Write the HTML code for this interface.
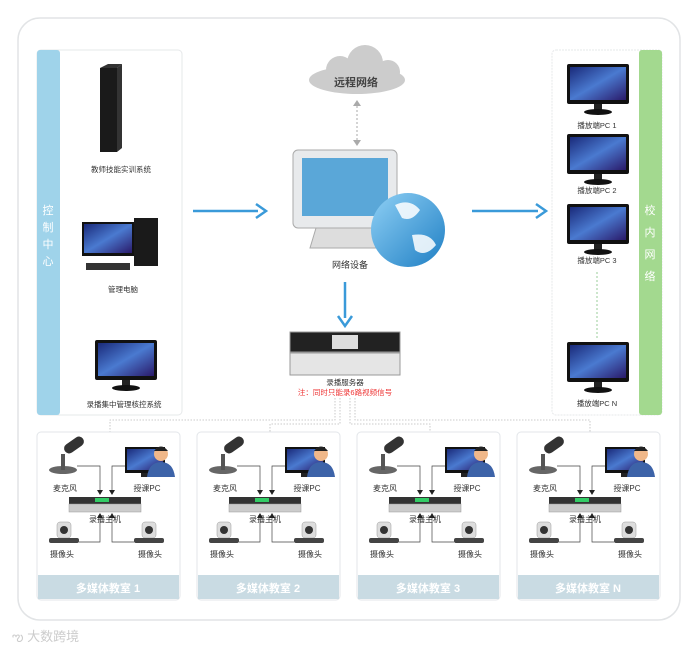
<!DOCTYPE html>
<html><head><meta charset="utf-8"><style>
body{margin:0;background:#fff;}
svg{display:block;font-family:"Liberation Sans","Noto Sans CJK SC",sans-serif;}
</style></head><body>
<svg width="699" height="653" viewBox="0 0 699 653" xmlns="http://www.w3.org/2000/svg">
<defs>
<linearGradient id="scr" x1="0" y1="0" x2="1" y2="1"><stop offset="0" stop-color="#1a2a7a"/><stop offset="0.5" stop-color="#4a7ad0"/><stop offset="1" stop-color="#2a1a6a"/></linearGradient>
<linearGradient id="glb" x1="0" y1="0" x2="1" y2="1"><stop offset="0" stop-color="#8fd0f5"/><stop offset="1" stop-color="#1f7fc4"/></linearGradient>
<g id="mon">
<rect x="0" y="0" width="62" height="40" rx="2" fill="#111"/>
<rect x="3" y="3" width="56" height="33" fill="url(#scr)"/>
<rect x="27" y="40" width="8" height="6" fill="#222"/>
<ellipse cx="31" cy="48" rx="14" ry="3" fill="#111"/>
</g>
<g id="room">
<rect x="0" y="0" width="143" height="168" rx="4" fill="#fff" stroke="#e3e6ea"/>
<rect x="1" y="143" width="141" height="24" fill="#c9dbe3"/>
<text x="71" y="160" font-size="11" font-weight="bold" fill="#fff" text-anchor="middle">多媒体教室 1</text>
<!-- mic -->
<ellipse cx="26" cy="38" rx="14" ry="4" fill="#666"/>
<rect x="24" y="22" width="4" height="16" fill="#555"/>
<rect x="26" y="8" width="22" height="10" rx="5" fill="#333" transform="rotate(-35 37 13)"/>
<text x="28" y="59" font-size="8" fill="#333" text-anchor="middle">麦克风</text>
<!-- pc + person -->
<rect x="88" y="15" width="40" height="26" fill="#111"/><rect x="90" y="17" width="36" height="21" fill="url(#scr)"/>
<rect x="104" y="41" width="8" height="4" fill="#222"/>
<circle cx="124" cy="22" r="7" fill="#f0b88a"/><path d="M117 19 Q124 10 131 19 Z" fill="#222"/>
<path d="M110 45 Q112 30 124 30 Q136 30 138 45 Z" fill="#3d63a8"/>
<text x="110" y="59" font-size="8" fill="#333" text-anchor="middle">授课PC</text>
<!-- recorder -->
<rect x="32" y="65" width="72" height="7" fill="#333"/><rect x="32" y="72" width="72" height="8" fill="#ccc" stroke="#999" stroke-width="0.5"/>
<rect x="58" y="66" width="14" height="4" fill="#3c6"/>
<text x="68" y="90" font-size="8" fill="#333" text-anchor="middle">录播主机</text>
<!-- cameras -->
<rect x="20" y="90" width="14" height="16" rx="3" fill="#ddd" stroke="#999" stroke-width="0.5"/><circle cx="27" cy="98" r="4" fill="#333"/>
<rect x="12" y="106" width="30" height="5" rx="2" fill="#444"/>
<rect x="105" y="90" width="14" height="16" rx="3" fill="#ddd" stroke="#999" stroke-width="0.5"/><circle cx="112" cy="98" r="4" fill="#333"/>
<rect x="97" y="106" width="30" height="5" rx="2" fill="#444"/>
<text x="25" y="125" font-size="8" fill="#333" text-anchor="middle">摄像头</text>
<text x="113" y="125" font-size="8" fill="#333" text-anchor="middle">摄像头</text>
<!-- lines -->
<g stroke="#444" stroke-width="0.7" fill="none">
<path d="M40 34 H63 V60"/><path d="M88 34 H75 V60"/>
<path d="M42 110 H63 V84"/><path d="M97 110 H75 V84"/>
</g>
<g fill="#222"><path d="M60 58 L66 58 L63 63Z"/><path d="M72 58 L78 58 L75 63Z"/><path d="M60 86 L66 86 L63 81Z"/><path d="M72 86 L78 86 L75 81Z"/></g>
</g>
</defs>
<rect x="18" y="18" width="662" height="602" rx="22" fill="#fff" stroke="#e2e4e6" stroke-width="1.5"/>
<!-- left panel -->
<rect x="37" y="50" width="145" height="365" rx="4" fill="#fff" stroke="#e6e8ea"/>
<rect x="37" y="50" width="23" height="365" rx="3" fill="#9fd3ea"/>
<g font-size="11" fill="#fff" text-anchor="middle"><text x="48" y="214">控</text><text x="48" y="231">制</text><text x="48" y="248">中</text><text x="48" y="265">心</text></g>
<path d="M100 68 L108 64 H122 L117 68 Z" fill="#333"/><rect x="100" y="68" width="17" height="84" fill="#1a1a1a"/><path d="M117 68 L122 64 V148 L117 152Z" fill="#333"/>
<text x="121" y="172" font-size="7.5" fill="#333" text-anchor="middle">教师技能实训系统</text>
<rect x="82" y="222" width="52" height="34" fill="#111"/><rect x="84" y="224" width="48" height="29" fill="url(#scr)"/>
<rect x="134" y="218" width="24" height="48" fill="#1a1a1a"/><rect x="86" y="263" width="44" height="7" fill="#333"/>
<text x="123" y="292" font-size="7.5" fill="#333" text-anchor="middle">管理电脑</text>
<use href="#mon" x="95" y="340"/>
<text x="124" y="407" font-size="7.5" fill="#333" text-anchor="middle">录播集中管理核控系统</text>
<!-- right panel -->
<rect x="552" y="50" width="110" height="365" rx="4" fill="#fff" stroke="#e6e8ea" stroke-dasharray="2,1"/>
<rect x="639" y="50" width="23" height="365" rx="3" fill="#a3d98f"/>
<g font-size="11" fill="#fff" text-anchor="middle"><text x="650" y="214">校</text><text x="650" y="236">内</text><text x="650" y="258">网</text><text x="650" y="280">络</text></g>
<use href="#mon" x="567" y="64"/><text x="597" y="128" font-size="7.5" fill="#333" text-anchor="middle">播放端PC 1</text>
<use href="#mon" x="567" y="134"/><text x="597" y="193" font-size="7.5" fill="#333" text-anchor="middle">播放端PC 2</text>
<use href="#mon" x="567" y="204"/><text x="597" y="263" font-size="7.5" fill="#333" text-anchor="middle">播放端PC 3</text>
<line x1="597" y1="272" x2="597" y2="338" stroke="#9c9" stroke-dasharray="2,2"/>
<use href="#mon" x="567" y="342"/><text x="597" y="406" font-size="7.5" fill="#333" text-anchor="middle">播放端PC N</text>
<!-- cloud -->
<g fill="#ccc"><ellipse cx="357" cy="80" rx="48" ry="14"/><circle cx="340" cy="70" r="14"/><circle cx="365" cy="63" r="18"/><circle cx="388" cy="72" r="12"/></g>
<text x="356" y="86" font-size="11" font-weight="bold" fill="#444" text-anchor="middle">远程网络</text>
<line x1="357" y1="102" x2="357" y2="142" stroke="#aaa" stroke-dasharray="2,2"/>
<path d="M353 106 L357 100 L361 106Z M353 140 L357 146 L361 140Z" fill="#aaa"/>
<!-- network device -->
<rect x="293" y="150" width="104" height="78" rx="5" fill="#e8eaec" stroke="#aaa"/>
<rect x="302" y="158" width="86" height="58" fill="#5aa7d8"/>
<path d="M316 228 H376 L382 248 H310 Z" fill="#ddd" stroke="#aaa"/>
<circle cx="408" cy="230" r="37" fill="url(#glb)"/>
<path d="M395 205 Q410 198 420 210 Q412 222 402 218 Z M412 235 Q430 232 436 245 Q425 258 415 250 Z" fill="#fff" opacity="0.85"/>
<text x="350" y="268" font-size="9" fill="#333" text-anchor="middle">网络设备</text>
<!-- arrows -->
<g stroke="#3a9ad9" stroke-width="2.5" fill="none"><line x1="193" y1="211" x2="258" y2="211"/><line x1="472" y1="211" x2="538" y2="211"/><line x1="345" y1="282" x2="345" y2="318"/></g>
<path d="M256 204 L266 211 L256 218" stroke="#3a9ad9" stroke-width="2.5" fill="none"/>
<path d="M536 204 L546 211 L536 218" stroke="#3a9ad9" stroke-width="2.5" fill="none"/>
<path d="M338 316 L345 326 L352 316" stroke="#3a9ad9" stroke-width="2.5" fill="none"/>
<!-- server -->
<rect x="290" y="332" width="110" height="20" fill="#222" stroke="#999"/><rect x="332" y="335" width="26" height="14" fill="#ddd"/>
<rect x="290" y="353" width="110" height="22" fill="#e5e5e5" stroke="#999"/>
<text x="345" y="385" font-size="7.5" fill="#333" text-anchor="middle">录播服务器</text>
<text x="345" y="395" font-size="7.5" fill="#e33" text-anchor="middle">注：同时只能录6路视频信号</text>
<g stroke="#bbb" stroke-dasharray="1.5,1.5" fill="none" stroke-width="0.8">
<path d="M335 398 V420 H110 V432"/><path d="M340 398 V424 H270 V432"/><path d="M350 398 V424 H430 V432"/><path d="M355 398 V420 H590 V432"/>
</g>
<use href="#room" x="37" y="432"/>
<use href="#room" x="197" y="432"/>
<use href="#room" x="357" y="432"/>
<use href="#room" x="517" y="432"/>
<rect x="199" y="576" width="139" height="22" fill="#c9dbe3"/><text x="268" y="592" font-size="11" font-weight="bold" fill="#fff" text-anchor="middle">多媒体教室 2</text>
<rect x="359" y="576" width="139" height="22" fill="#c9dbe3"/><text x="428" y="592" font-size="11" font-weight="bold" fill="#fff" text-anchor="middle">多媒体教室 3</text>
<rect x="519" y="576" width="139" height="22" fill="#c9dbe3"/><text x="588" y="592" font-size="11" font-weight="bold" fill="#fff" text-anchor="middle">多媒体教室 N</text>
<text x="12" y="641" font-size="13" fill="#ccc">ఌ 大数跨境</text>
</svg>
</body></html>
